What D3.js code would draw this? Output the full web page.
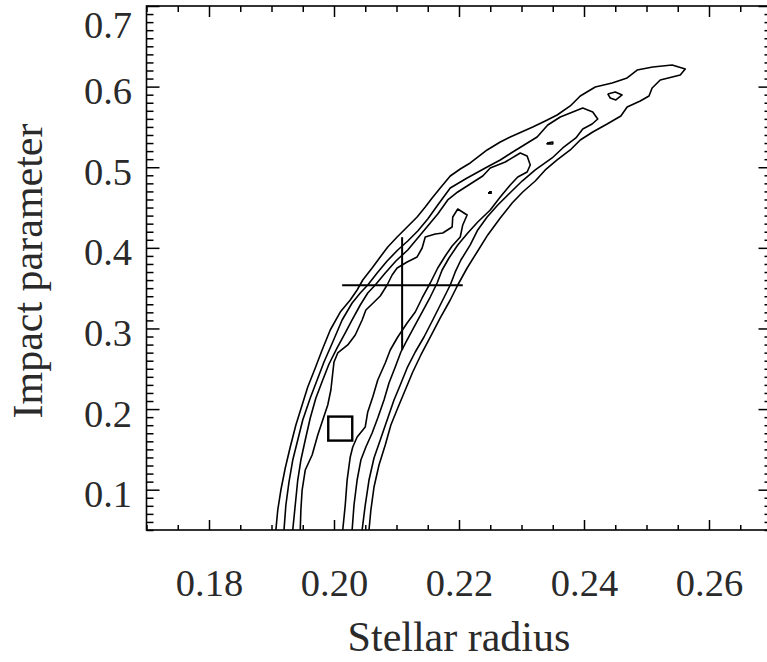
<!DOCTYPE html>
<html>
<head>
<meta charset="utf-8">
<script src="https://cdn.jsdelivr.net/npm/d3@7"></script>
<style>
  body { margin: 0; background: #fff; }
  .tick text { font-family: "Liberation Serif", "Times New Roman", serif; }
</style>
</head>
<body>
<div id="chart"></div>
<script>
// Axis ticks
var xMajorTicks = [0.18, 0.20, 0.22, 0.24, 0.26];
var xTickLabels = ["0.18", "0.20", "0.22", "0.24", "0.26"];
var yMajorTicks = [0.1, 0.2, 0.3, 0.4, 0.5, 0.6, 0.7];
var yTickLabels = ["0.1", "0.2", "0.3", "0.4", "0.5", "0.6", "0.7"];

// Contour levels, [stellar radius, impact parameter]
var contourLevel1 = [[0.1907,0.0500],[0.1910,0.0748],[0.1915,0.0996],[0.1922,0.1269],[0.1930,0.1530],[0.1939,0.1803],[0.1949,0.2051],[0.1958,0.2274],[0.1970,0.2510],[0.1981,0.2733],[0.1994,0.2981],[0.2010,0.3204],[0.2026,0.3353],[0.2037,0.3477],[0.2046,0.3601],[0.2061,0.3750],[0.2074,0.3887],[0.2086,0.4011],[0.2101,0.4135],[0.2117,0.4259],[0.2133,0.4383],[0.2146,0.4507],[0.2157,0.4618],[0.2170,0.4743],[0.2186,0.4891],[0.2202,0.4978],[0.2218,0.5053],[0.2245,0.5214],[0.2266,0.5313],[0.2282,0.5375],[0.2318,0.5499],[0.2338,0.5574],[0.2357,0.5648],[0.2378,0.5760],[0.2394,0.5884],[0.2418,0.5995],[0.2445,0.6045],[0.2469,0.6107],[0.2485,0.6206],[0.2510,0.6244],[0.2541,0.6268],[0.2562,0.6219],[0.2554,0.6144],[0.2522,0.6082],[0.2509,0.5983],[0.2504,0.5884],[0.2490,0.5822],[0.2469,0.5747],[0.2459,0.5636],[0.2437,0.5536],[0.2414,0.5437],[0.2394,0.5338],[0.2378,0.5214],[0.2357,0.5090],[0.2338,0.4966],[0.2322,0.4829],[0.2302,0.4693],[0.2285,0.4556],[0.2266,0.4370],[0.2246,0.4160],[0.2229,0.3949],[0.2213,0.3750],[0.2198,0.3539],[0.2186,0.3353],[0.2170,0.3130],[0.2154,0.2894],[0.2139,0.2671],[0.2126,0.2460],[0.2114,0.2237],[0.2102,0.2013],[0.2091,0.1803],[0.2082,0.1554],[0.2072,0.1306],[0.2064,0.1033],[0.2059,0.0748],[0.2056,0.0500]];

var contourLevel2 = [[0.1920,0.0500],[0.1923,0.0810],[0.1928,0.1096],[0.1934,0.1368],[0.1942,0.1616],[0.1950,0.1865],[0.1962,0.2138],[0.1973,0.2361],[0.1984,0.2584],[0.1998,0.2832],[0.2013,0.3105],[0.2029,0.3316],[0.2042,0.3440],[0.2054,0.3539],[0.2069,0.3688],[0.2085,0.3837],[0.2102,0.3973],[0.2118,0.4085],[0.2134,0.4209],[0.2150,0.4358],[0.2166,0.4532],[0.2186,0.4743],[0.2213,0.4867],[0.2245,0.5003],[0.2266,0.5090],[0.2286,0.5189],[0.2325,0.5375],[0.2342,0.5524],[0.2362,0.5623],[0.2398,0.5735],[0.2414,0.5685],[0.2422,0.5598],[0.2413,0.5536],[0.2398,0.5474],[0.2387,0.5363],[0.2366,0.5239],[0.2349,0.5115],[0.2322,0.4966],[0.2301,0.4829],[0.2283,0.4693],[0.2262,0.4532],[0.2245,0.4383],[0.2230,0.4222],[0.2218,0.4036],[0.2203,0.3849],[0.2194,0.3701],[0.2186,0.3539],[0.2174,0.3353],[0.2158,0.3105],[0.2144,0.2894],[0.2130,0.2708],[0.2117,0.2510],[0.2106,0.2299],[0.2096,0.2113],[0.2085,0.1865],[0.2074,0.1616],[0.2064,0.1393],[0.2056,0.1120],[0.2050,0.0810],[0.2045,0.0500]];

var contourLevel3 = [[0.1934,0.0500],[0.1938,0.0810],[0.1942,0.1120],[0.1947,0.1368],[0.1954,0.1616],[0.1962,0.1889],[0.1971,0.2138],[0.1982,0.2361],[0.1992,0.2559],[0.2005,0.2758],[0.2018,0.2944],[0.2029,0.3105],[0.2042,0.3291],[0.2054,0.3440],[0.2066,0.3539],[0.2082,0.3688],[0.2099,0.3837],[0.2118,0.3973],[0.2134,0.4122],[0.2150,0.4271],[0.2166,0.4420],[0.2182,0.4594],[0.2198,0.4693],[0.2218,0.4792],[0.2238,0.4891],[0.2250,0.4991],[0.2274,0.5065],[0.2298,0.5177],[0.2309,0.5140],[0.2314,0.5028],[0.2309,0.4941],[0.2294,0.4879],[0.2282,0.4780],[0.2266,0.4631],[0.2250,0.4470],[0.2230,0.4321],[0.2214,0.4184],[0.2198,0.4036],[0.2184,0.3874],[0.2173,0.3725],[0.2165,0.3564],[0.2154,0.3390],[0.2141,0.3204],[0.2128,0.3018],[0.2117,0.2857],[0.2107,0.2708],[0.2098,0.2522],[0.2088,0.2324],[0.2080,0.2113],[0.2070,0.1889],[0.2061,0.1703],[0.2051,0.1530],[0.2043,0.1368],[0.2037,0.1120],[0.2032,0.0810],[0.2029,0.0500]];

var contourLevel4 = [[0.1946,0.0500],[0.1947,0.0748],[0.1949,0.0996],[0.1954,0.1244],[0.1965,0.1430],[0.1974,0.1679],[0.1982,0.1865],[0.1990,0.2051],[0.1995,0.2237],[0.1998,0.2448],[0.2000,0.2584],[0.2006,0.2696],[0.2022,0.2795],[0.2034,0.2919],[0.2045,0.3105],[0.2051,0.3229],[0.2061,0.3304],[0.2074,0.3403],[0.2085,0.3539],[0.2093,0.3663],[0.2101,0.3750],[0.2117,0.3825],[0.2133,0.3887],[0.2141,0.3998],[0.2146,0.4135],[0.2162,0.4172],[0.2174,0.4184],[0.2189,0.4259],[0.2190,0.4383],[0.2198,0.4482],[0.2213,0.4408],[0.2206,0.4284],[0.2202,0.4135],[0.2189,0.4023],[0.2178,0.3899],[0.2166,0.3750],[0.2154,0.3564],[0.2141,0.3378],[0.2130,0.3204],[0.2117,0.3068],[0.2102,0.2894],[0.2090,0.2733],[0.2082,0.2572],[0.2070,0.2361],[0.2062,0.2150],[0.2054,0.1964],[0.2050,0.1778],[0.2037,0.1654],[0.2030,0.1530],[0.2026,0.1406],[0.2021,0.1120],[0.2018,0.0810],[0.2014,0.0500]];

// Small closed islands
var islandLevel2 = [[0.2438,0.5909],[0.2450,0.5933],[0.2461,0.5896],[0.2451,0.5834],[0.2442,0.5859],[0.2438,0.5909]];
var islandDash = [[0.2341,0.5301],[0.2350,0.5313],[0.2350,0.5288],[0.2341,0.5288],[0.2341,0.5301]];
var islandDot = [[0.2248,0.4693],[0.2251,0.4693],[0.2251,0.4680],[0.2248,0.4680],[0.2248,0.4693]];

// Best fit with error bars, and the square marker
var bestFit = { x: 0.2109, y: 0.3537, xLow: 0.2013, xHigh: 0.2206, yLow: 0.2731, yHigh: 0.4132 };
var squarePoint = { x: 0.2010, y: 0.1758 };

var svgWidth = 767;
var svgHeight = 662;

var margin = { top: 6, right: -4.5, bottom: 132, left: 146.5 };
var width = svgWidth - margin.left - margin.right;
var height = svgHeight - margin.top - margin.bottom;

var svg = d3.select("#chart")
  .append("svg")
  .attr("width", svgWidth)
  .attr("height", svgHeight)
  .style("overflow", "hidden");

var chartGroup = svg.append("g")
  .attr("transform", `translate(${margin.left}, ${margin.top})`);

var xScale = d3.scaleLinear().domain([0.17, 0.27]).range([0, width]);
var yScale = d3.scaleLinear().domain([0.05, 0.70]).range([height, 0]);

function isMajor(v, step) {
  var k = v / step;
  return Math.abs(k - Math.round(k)) < 1e-6;
}
var xMinorTicks = d3.range(0, 21).map(i => 0.17 + i * 0.005).filter(v => !isMajor(v - 0.18, 0.02));
var yMinorTicks = d3.range(0, 66).map(i => 0.05 + i * 0.01).filter(v => !isMajor(v, 0.1));

var font = '"Liberation Serif", "Times New Roman", serif';

// Frame
chartGroup.append("rect")
  .attr("x", 0).attr("y", 0)
  .attr("width", width).attr("height", height)
  .attr("fill", "none")
  .attr("stroke", "#000")
  .attr("stroke-width", 1.6);

function styleAxis(g) {
  g.select(".domain").remove();
  g.selectAll(".tick line").attr("stroke", "#000").attr("stroke-width", 1.5);
}

// Bottom axis, major ticks with labels
var bottomAxis = d3.axisBottom(xScale)
  .tickValues(xMajorTicks)
  .tickFormat((d, i) => xTickLabels[i])
  .tickSizeInner(-10).tickSizeOuter(0);
var gBottom = chartGroup.append("g")
  .attr("transform", `translate(0, ${height})`)
  .call(bottomAxis)
  .call(styleAxis);
gBottom.selectAll(".tick text")
  .attr("y", 66).attr("dy", null)
  .style("font-family", font).style("font-size", "38.5px").attr("fill", "#2a2a2a");

chartGroup.append("g")
  .attr("transform", `translate(0, ${height})`)
  .call(d3.axisBottom(xScale).tickValues(xMinorTicks).tickFormat("").tickSizeInner(-5).tickSizeOuter(0))
  .call(styleAxis);

// Top axis
chartGroup.append("g")
  .call(d3.axisTop(xScale).tickValues(xMajorTicks).tickFormat("").tickSizeInner(-11).tickSizeOuter(0))
  .call(styleAxis);
chartGroup.append("g")
  .call(d3.axisTop(xScale).tickValues(xMinorTicks).tickFormat("").tickSizeInner(-6).tickSizeOuter(0))
  .call(styleAxis);

// Left axis
var leftAxis = d3.axisLeft(yScale)
  .tickValues(yMajorTicks)
  .tickFormat((d, i) => yTickLabels[i])
  .tickSizeInner(-13).tickSizeOuter(0);
var gLeft = chartGroup.append("g").call(leftAxis).call(styleAxis);
gLeft.selectAll(".tick text")
  .attr("x", -14.5).attr("dy", null)
  .attr("y", d => Math.max(17, 31 - yScale(d)))
  .style("font-family", font).style("font-size", "38.5px").attr("fill", "#2a2a2a");

chartGroup.append("g")
  .call(d3.axisLeft(yScale).tickValues(yMinorTicks).tickFormat("").tickSizeInner(-7).tickSizeOuter(0))
  .call(styleAxis);

// Right axis (sits at the cropped edge)
chartGroup.append("g")
  .attr("transform", `translate(${width}, 0)`)
  .call(d3.axisRight(yScale).tickValues(yMajorTicks).tickFormat("").tickSizeInner(-13).tickSizeOuter(0))
  .call(styleAxis);
chartGroup.append("g")
  .attr("transform", `translate(${width}, 0)`)
  .call(d3.axisRight(yScale).tickValues(yMinorTicks).tickFormat("").tickSizeInner(-7).tickSizeOuter(0))
  .call(styleAxis);

// Contours
var line = d3.line()
  .x(d => xScale(d[0]))
  .y(d => yScale(d[1]));

var contours = [contourLevel1, contourLevel2, contourLevel3, contourLevel4, islandLevel2, islandDash];
chartGroup.selectAll(".contour")
  .data(contours)
  .enter()
  .append("path")
  .attr("class", "contour")
  .attr("d", line)
  .attr("fill", "none")
  .attr("stroke", "#000")
  .attr("stroke-width", 1.6)
  .attr("stroke-linejoin", "round");

chartGroup.append("path")
  .attr("d", line(islandDot))
  .attr("fill", "#000")
  .attr("stroke", "#000")
  .attr("stroke-width", 2);

// Error cross
chartGroup.append("line")
  .attr("x1", xScale(bestFit.xLow)).attr("x2", xScale(bestFit.xHigh))
  .attr("y1", yScale(bestFit.y)).attr("y2", yScale(bestFit.y))
  .attr("stroke", "#000").attr("stroke-width", 2);
chartGroup.append("line")
  .attr("x1", xScale(bestFit.x)).attr("x2", xScale(bestFit.x))
  .attr("y1", yScale(bestFit.yLow)).attr("y2", yScale(bestFit.yHigh))
  .attr("stroke", "#000").attr("stroke-width", 2);

// Square marker
var sq = 24;
chartGroup.append("rect")
  .attr("x", xScale(squarePoint.x) - sq / 2)
  .attr("y", yScale(squarePoint.y) - sq / 2)
  .attr("width", sq).attr("height", sq)
  .attr("fill", "none")
  .attr("stroke", "#000")
  .attr("stroke-width", 2.4);

// Axis titles
svg.append("text")
  .attr("x", 459)
  .attr("y", 651)
  .attr("text-anchor", "middle")
  .style("font-family", font)
  .style("font-size", "42px")
  .attr("fill", "#2a2a2a")
  .text("Stellar radius");

svg.append("text")
  .attr("transform", "translate(42, 271) rotate(-90)")
  .attr("text-anchor", "middle")
  .style("font-family", font)
  .style("font-size", "42px")
  .attr("fill", "#2a2a2a")
  .text("Impact parameter");
</script>
</body>
</html>
